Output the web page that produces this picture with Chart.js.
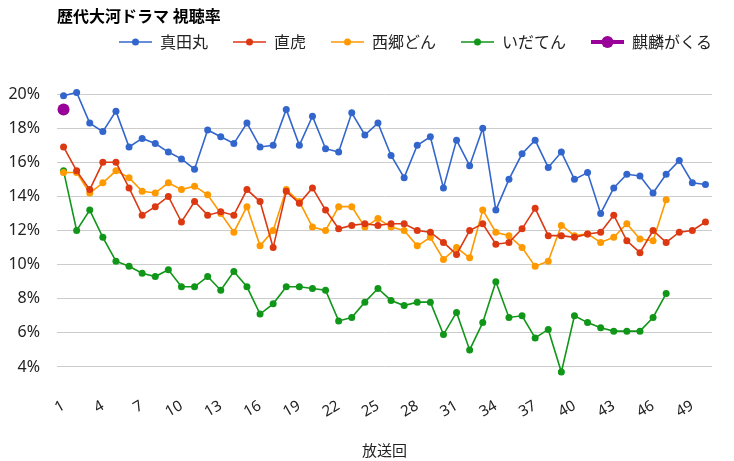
<!DOCTYPE html>
<html><head><meta charset="utf-8">
<script src="https://cdn.jsdelivr.net/npm/chart.js@4"></script>
<style>html,body{margin:0;padding:0;background:#fff;}#wrap{width:734px;height:461px;}</style>
</head><body><div id="wrap"><canvas id="c" width="734" height="461"></canvas></div>
<script>
const chartTitle = '歴代大河ドラマ 視聴率';
const xAxisTitle = '放送回';
const episodes = ['1','2','3','4','5','6','7','8','9','10','11','12','13','14','15','16','17','18','19','20','21','22','23','24','25','26','27','28','29','30','31','32','33','34','35','36','37','38','39','40','41','42','43','44','45','46','47','48','49','50'];
const xTickLabels = ['1','4','7','10','13','16','19','22','25','28','31','34','37','40','43','46','49'];
const yTickValues = [4,6,8,10,12,14,16,18,20];
const seriesNames = ['真田丸','直虎','西郷どん','いだてん','麒麟がくる'];
const sanadamaru = [19.9,20.1,18.3,17.8,19.0,16.9,17.4,17.1,16.6,16.2,15.6,17.9,17.5,17.1,18.3,16.9,17.0,19.1,17.0,18.7,16.8,16.6,18.9,17.6,18.3,16.4,15.1,17.0,17.5,14.5,17.3,15.8,18.0,13.2,15.0,16.5,17.3,15.7,16.6,15.0,15.4,13.0,14.5,15.3,15.2,14.2,15.3,16.1,14.8,14.7];
const naotora = [16.9,15.5,14.4,16.0,16.0,14.5,12.9,13.4,14.0,12.5,13.7,12.9,13.1,12.9,14.4,13.7,11.0,14.3,13.6,14.5,13.2,12.1,12.3,12.4,12.3,12.4,12.4,12.0,11.9,11.3,10.6,12.0,12.4,11.2,11.3,12.1,13.3,11.7,11.7,11.6,11.8,11.9,12.9,11.4,10.7,12.0,11.3,11.9,12.0,12.5];
const saigodon = [15.4,15.4,14.2,14.8,15.5,15.1,14.3,14.2,14.8,14.4,14.6,14.1,13.0,11.9,13.4,11.1,12.0,14.4,13.7,12.2,12.0,13.4,13.4,12.2,12.7,12.2,12.0,11.1,11.6,10.3,11.0,10.4,13.2,11.9,11.7,11.0,9.9,10.2,12.3,11.7,11.8,11.3,11.6,12.4,11.5,11.4,13.8];
const idaten = [15.5,12.0,13.2,11.6,10.2,9.9,9.5,9.3,9.7,8.7,8.7,9.3,8.5,9.6,8.7,7.1,7.7,8.7,8.7,8.6,8.5,6.7,6.9,7.8,8.6,7.9,7.6,7.8,7.8,5.9,7.2,5.0,6.6,9.0,6.9,7.0,5.7,6.2,3.7,7.0,6.6,6.3,6.1,6.1,6.1,6.9,8.3];
const kirin = [19.1];

const colors = ['#3366cc','#dc3912','#ff9900','#109618','#990099'];
const lineWidths = [1.6,1.6,1.6,1.6,4];
const pointRadii = [3.5,3.5,3.5,3.5,6];
const allData = [sanadamaru, naotora, saigodon, idaten, kirin];

function makeMarker(color, lw, r) {
  const cv = document.createElement('canvas');
  cv.width = 33; cv.height = 14;
  const g = cv.getContext('2d');
  g.strokeStyle = color; g.lineWidth = lw;
  g.beginPath(); g.moveTo(0, 7); g.lineTo(33, 7); g.stroke();
  g.fillStyle = color; g.beginPath(); g.arc(16.5, 7, r, 0, Math.PI * 2); g.fill();
  return cv;
}
const markers = colors.map((c, i) => makeMarker(c, i === 4 ? 4 : 1.6, i === 4 ? 6 : 3.5));

const titlePlugin = {
  id: 'titleText',
  afterDraw(chart) {
    const ctx = chart.ctx;
    ctx.save();
    ctx.font = 'bold 16px "Noto Sans CJK JP", sans-serif';
    ctx.fillStyle = '#000';
    ctx.textBaseline = 'middle';
    ctx.textAlign = 'left';
    ctx.fillText(chartTitle, chart.chartArea.left, 16);
    ctx.restore();
  }
};
const legendShift = {
  id: 'legendShift',
  afterLayout(chart) { chart.legend.left += 25; chart.legend.right += 25; }
};

new Chart(document.getElementById('c'), {
  type: 'line',
  data: {
    labels: episodes,
    datasets: allData.map((d, i) => ({
      label: seriesNames[i],
      data: d,
      borderColor: colors[i],
      backgroundColor: colors[i],
      borderWidth: lineWidths[i],
      pointRadius: pointRadii[i],
      pointBorderWidth: 0,
      pointBackgroundColor: colors[i],
      pointHoverRadius: pointRadii[i],
      tension: 0,
      fill: false
    }))
  },
  options: {
    responsive: false,
    devicePixelRatio: 1,
    animation: false,
    layout: { padding: { top: 9, right: 22, bottom: 0, left: 0 } },
    plugins: {
      title: { display: false },
      tooltip: { enabled: false },
      legend: {
        position: 'top',
        align: 'end',
        labels: {
          usePointStyle: true,
          pointStyleWidth: 33,
          padding: 25,
          color: '#222',
          font: { size: 16, family: '"Noto Sans CJK JP", sans-serif' },
          generateLabels(chart) {
            const items = Chart.defaults.plugins.legend.labels.generateLabels(chart);
            items.forEach((it, i) => { it.pointStyle = markers[i]; });
            return items;
          }
        }
      }
    },
    scales: {
      x: {
        type: 'category',
        offset: true,
        grid: { display: false, drawTicks: false },
        border: { display: false },
        afterFit(scale) { scale.height = 77; },
        ticks: {
          autoSkip: false,
          minRotation: 30,
          maxRotation: 30,
          padding: 13,
          color: '#222',
          font: { size: 15, family: '"Noto Sans", sans-serif' },
          callback(val, idx) { const l = episodes[idx]; return xTickLabels.includes(l) ? l : ''; }
        },
        title: {
          display: true,
          text: xAxisTitle,
          color: '#222',
          font: { size: 15, family: '"Noto Sans CJK JP", sans-serif' },
          padding: { top: 0, bottom: 2 }
        }
      },
      y: {
        min: 3,
        max: 22,
        grid: { color: '#cccccc', lineWidth: 1, drawTicks: false },
        border: { display: false },
        afterFit(scale) { scale.width = 57; },
        afterBuildTicks(scale) { scale.ticks = yTickValues.map(v => ({ value: v })); },
        ticks: {
          padding: 17,
          color: '#222',
          font: { size: 16, family: '"Noto Sans", sans-serif' },
          callback(v) { return v + '%'; }
        }
      }
    }
  },
  plugins: [titlePlugin, legendShift]
});
</script></body></html>
